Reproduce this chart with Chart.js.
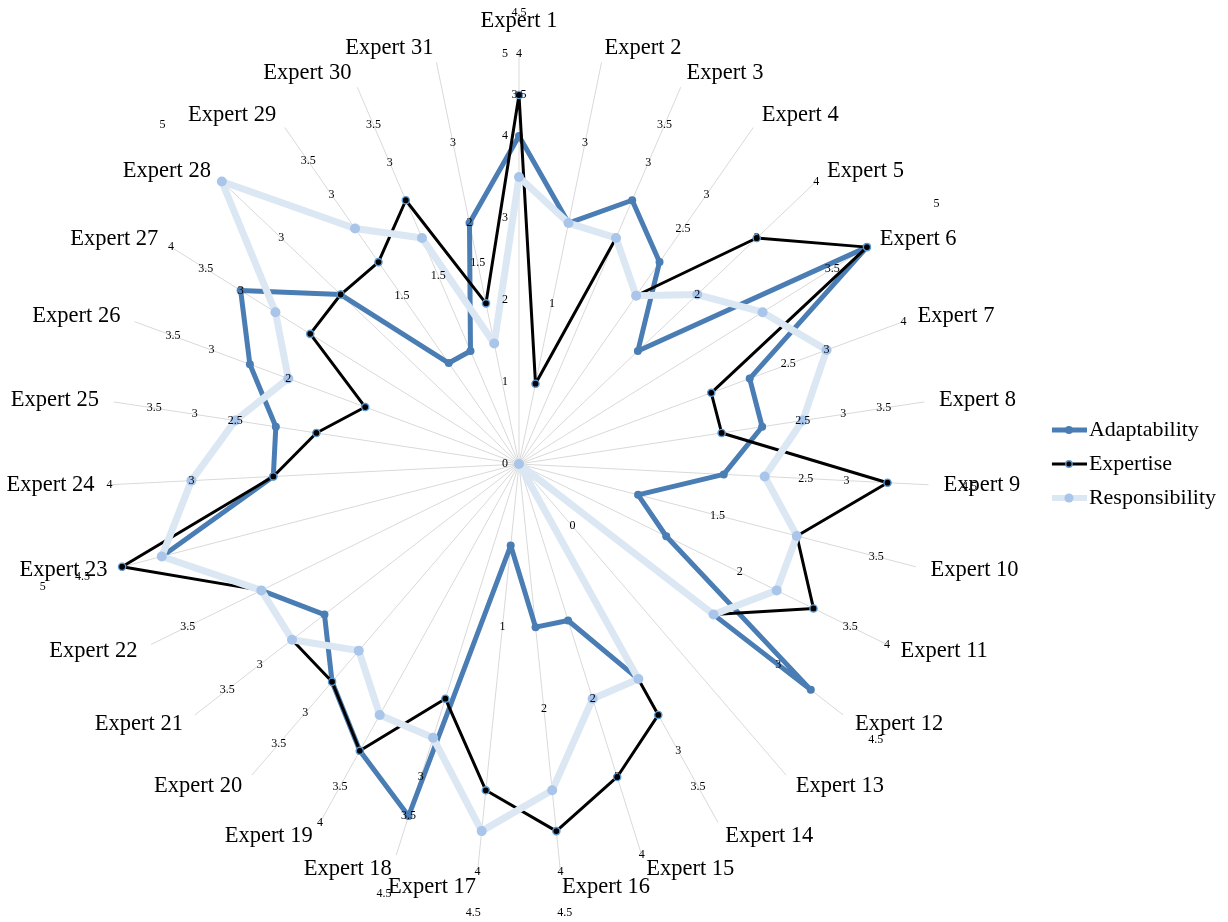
<!DOCTYPE html>
<html>
<head>
<meta charset="utf-8">
<title>Expert ratings radar</title>
<script src="https://cdn.jsdelivr.net/npm/chart.js@4.4.0/dist/chart.umd.min.js"></script>
<style>
  html, body { margin: 0; padding: 0; background: #ffffff; }
  #wrap { width: 1228px; height: 922px; }
</style>
</head>
<body>
<div id="wrap"><canvas id="radar" width="1228" height="922"></canvas></div>
<script>
// Spoke names, one per expert
const categories = [];
for (let n = 1; n <= 31; n++) categories.push('Expert ' + n);

// Ratings per expert (Expert 1 … Expert 31)
const adaptability   = [4, 3, 3.5, 3, 2, 5, 3, 3, 2.5, 1.5, 2, 4.5, 0, 3, 2, 2, 1, 4.5, 4, 3.5, 3, 3.5, 4.5, 3, 3, 3.5, 4, 3, 1.5, 1.5, 3];
const expertise      = [4.5, 1, 3, 2.5, 4, 5, 2.5, 2.5, 4.5, 3.5, 4, 3, 0, 3.5, 4, 4.5, 4, 3, 4, 3.5, 3.5, 3.5, 5, 3, 2.5, 2, 3, 3, 3, 3.5, 2];
const responsibility = [3.5, 3, 3, 2.5, 3, 3.5, 4, 3.5, 3, 3.5, 3.5, 3, 0, 3, 3, 4, 4.5, 3.5, 3.5, 3, 3.5, 3.5, 4.5, 4, 3.5, 3, 3.5, 5, 3.5, 3, 1.5];

// Radial axis range
const axisMin = 0;
const axisMax = 5;
const axisStep = 1;

const SERIF = '"Liberation Serif", "Times New Roman", serif';
const COLORS = {
  adaptability: '#4a7db4',
  expertise: '#000000',
  expertiseRing: '#5b9bd5',
  responsibilityLine: '#dce7f4',
  responsibilityPoint: '#a9c5e9',
  spoke: '#d9d9d9'
};

// Value labels sit one unit further out along the spoke than their point
const LABEL_OFFSET = 1;

// Small legend swatches: a line with a marker, as in the plotted series
function swatch(lineColor, lineWidth, dotFill, dotRadius, ringColor, ringWidth) {
  const c = document.createElement('canvas');
  c.width = 44; c.height = 14;
  const g = c.getContext('2d');
  g.strokeStyle = lineColor; g.lineWidth = lineWidth; g.lineCap = 'butt';
  g.beginPath(); g.moveTo(9, 7); g.lineTo(44, 7); g.stroke();
  g.beginPath(); g.arc(26, 7, dotRadius, 0, Math.PI * 2);
  g.fillStyle = dotFill; g.fill();
  if (ringColor) { g.strokeStyle = ringColor; g.lineWidth = ringWidth; g.stroke(); }
  return c;
}

const legendIcons = [
  swatch(COLORS.adaptability, 5, COLORS.adaptability, 4, null, 0),
  swatch(COLORS.expertise, 3, COLORS.expertise, 3.2, COLORS.expertiseRing, 1.4),
  swatch(COLORS.responsibilityLine, 6, COLORS.responsibilityPoint, 4.5, null, 0)
];

// Draws tick values, value labels and spoke names on top of the series
const spokeText = {
  id: 'spokeText',
  afterDatasetsDraw(chart) {
    const r = chart.scales.r;
    const ctx = chart.ctx;
    ctx.save();
    ctx.fillStyle = '#000000';

    // axis tick values, set just left of the first spoke
    ctx.font = '12px ' + SERIF;
    ctx.textAlign = 'center';
    ctx.textBaseline = 'middle';
    r.ticks.forEach(t => {
      const d = r.getDistanceFromCenterForValue(t.value);
      ctx.fillText(t.label, r.xCenter - 14, r.yCenter - d);
    });

    // value labels; equal values on one spoke share a single label
    const seen = new Set();
    chart.data.datasets.forEach(ds => {
      ds.data.forEach((v, i) => {
        const key = i + ':' + v;
        if (seen.has(key)) return;
        seen.add(key);
        const p = r.getPointPositionForValue(i, v + LABEL_OFFSET);
        ctx.fillText(String(v), p.x, p.y);
      });
    });

    // spoke names
    ctx.font = '22.5px ' + SERIF;
    chart.data.labels.forEach((name, i) => {
      const a = r.getIndexAngle(i);
      const p = r.getPointPosition(i, r.drawingArea + 15);
      const s = Math.sin(a);
      ctx.textBaseline = 'middle';
      if (Math.abs(s) < 0.01) {
        ctx.textAlign = 'center';
        const up = Math.cos(a) > 0 ? -1 : 1;
        ctx.fillText(name, p.x, p.y + up * 18);
      } else {
        ctx.textAlign = s > 0 ? 'left' : 'right';
        ctx.fillText(name, p.x, p.y);
      }
    });
    ctx.restore();
  }
};

new Chart(document.getElementById('radar'), {
  type: 'radar',
  data: {
    labels: categories,
    datasets: [
      {
        label: 'Adaptability',
        data: adaptability,
        order: 3,
        fill: false,
        borderColor: COLORS.adaptability,
        borderWidth: 5,
        borderJoinStyle: 'round',
        pointRadius: 4,
        pointBackgroundColor: COLORS.adaptability,
        pointBorderWidth: 0,
        pointHoverRadius: 4
      },
      {
        label: 'Expertise',
        data: expertise,
        order: 2,
        fill: false,
        borderColor: COLORS.expertise,
        borderWidth: 3,
        borderJoinStyle: 'round',
        pointRadius: 3.6,
        pointBackgroundColor: COLORS.expertise,
        pointBorderColor: COLORS.expertiseRing,
        pointBorderWidth: 1.4,
        pointHoverRadius: 3.6
      },
      {
        label: 'Responsibility',
        data: responsibility,
        order: 1,
        fill: false,
        borderColor: COLORS.responsibilityLine,
        borderWidth: 7,
        borderJoinStyle: 'round',
        pointRadius: 5,
        pointBackgroundColor: COLORS.responsibilityPoint,
        pointBorderWidth: 0,
        pointHoverRadius: 5
      }
    ]
  },
  options: {
    responsive: false,
    animation: false,
    events: [],
    layout: { padding: { left: 0, right: 2, top: 54, bottom: 48 } },
    elements: { line: { tension: 0 } },
    scales: {
      r: {
        min: axisMin,
        max: axisMax,
        ticks: { stepSize: axisStep, display: false },
        grid: { display: false },
        angleLines: { display: true, color: COLORS.spoke, lineWidth: 1 },
        pointLabels: { display: false }
      }
    },
    plugins: {
      tooltip: { enabled: false },
      legend: {
        position: 'right',
        align: 'center',
        labels: {
          usePointStyle: true,
          pointStyleWidth: 26,
          padding: 12,
          color: '#000000',
          font: { family: SERIF, size: 22 },
          generateLabels(chart) {
            return chart.data.datasets.map((ds, i) => ({
              text: ds.label,
              datasetIndex: i,
              pointStyle: legendIcons[i],
              fillStyle: 'rgba(0,0,0,0)',
              strokeStyle: 'rgba(0,0,0,0)',
              lineWidth: 0,
              hidden: false,
              fontColor: '#000000'
            }));
          }
        }
      }
    }
  },
  plugins: [spokeText]
});
</script>
</body>
</html>
